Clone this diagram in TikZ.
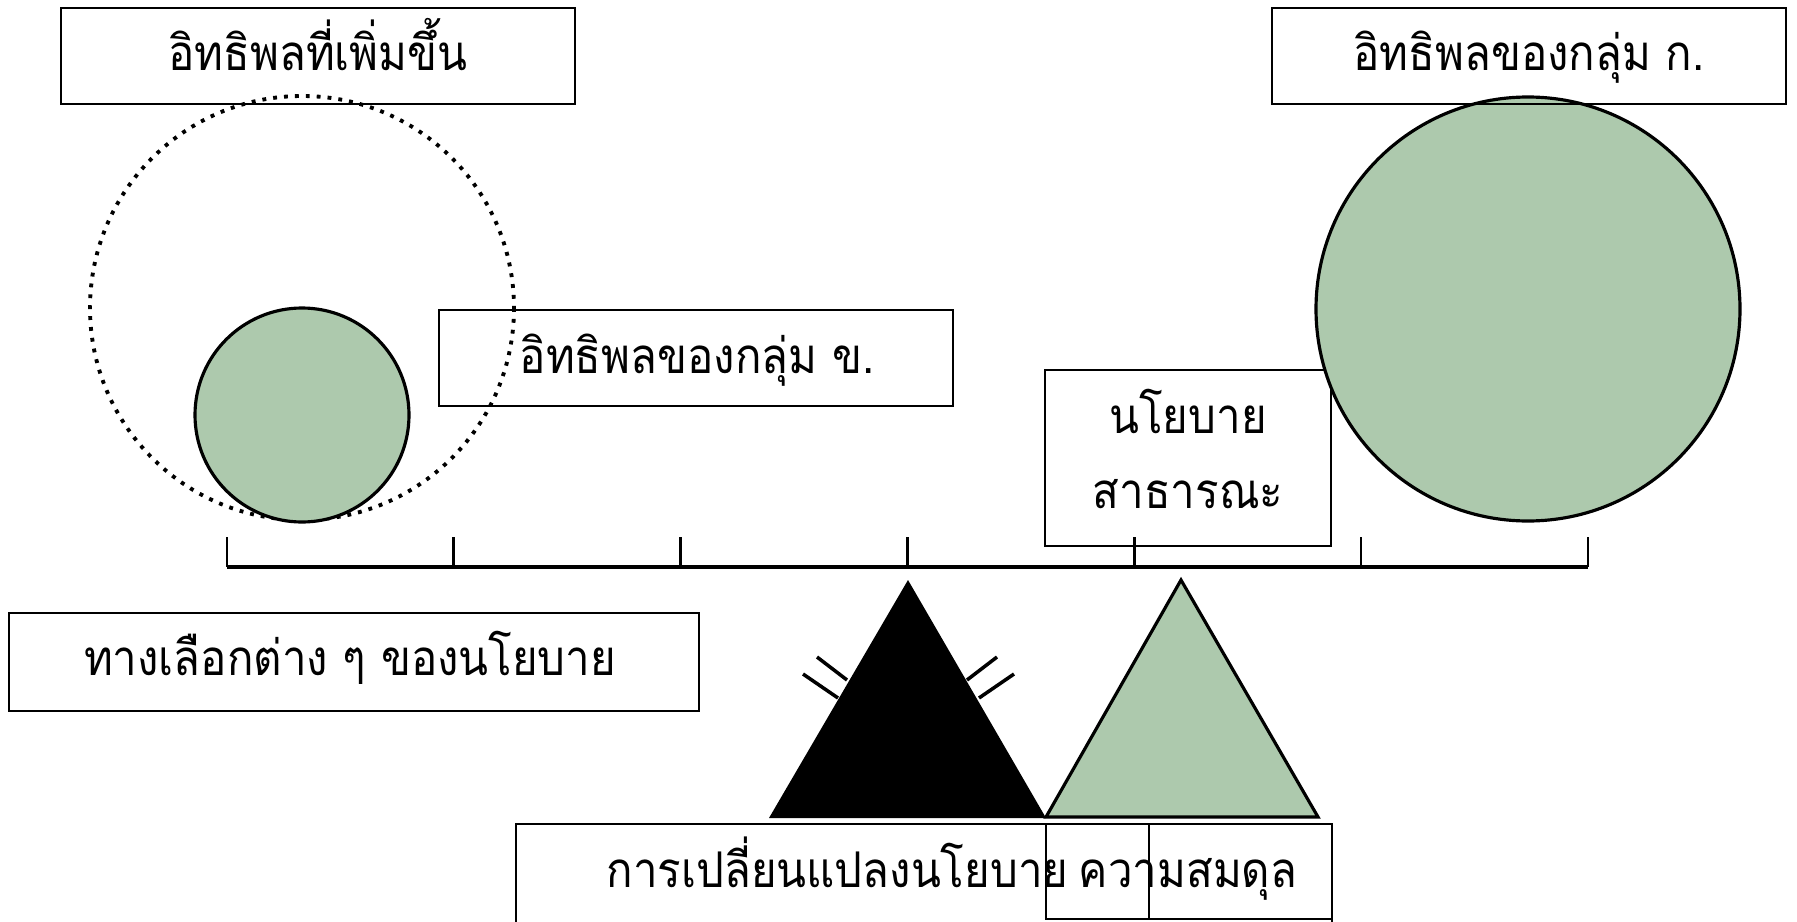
\documentclass[tikz,border=0pt]{standalone}
\usepackage{fontspec}
\usepackage{graphicx}
\newfontfamily\thai[Script=Thai]{Loma}
\newcommand{\tht}[1]{\scalebox{0.89}[1]{\thai\fontsize{14}{17}\selectfont #1}}
\definecolor{grn}{RGB}{173,201,173}
\tikzset{
  box/.style={draw, line width=0.6pt, inner sep=0pt},
  lbl/.style={inner sep=0pt, anchor=base},
  ring/.style={draw, line width=0.9pt, fill=grn},
  hash/.style={line width=1pt},
}
\begin{document}
\begin{tikzpicture}[x=0.01cm,y=-0.01cm]
\useasboundingbox (0,0) rectangle (1797,921);
\fill[white] (0,0) rectangle (1797,921);
% small circle and dotted ring
\draw[dotted, line width=1.1pt] (302,308) circle[radius=212];
\draw[ring] (302,415) circle[radius=107];
% policy box (under big circle)
\node[box, minimum width=2.86cm, minimum height=1.76cm] (pol) at (1188,458) {};
\node[lbl] (pol1) at (1188,433) {\tht{นโยบาย}};
\node[lbl] (pol2) at (1188,508) {\tht{สาธารณะ}};
% big circle
\draw[ring] (1528,309) circle[radius=212];
% top boxes
\node[box, minimum width=5.14cm, minimum height=0.96cm] (inc) at (318,56) {};
\node[lbl] (inct) at (318,70) {\tht{อิทธิพลที่เพิ่มขึ้น}};
\node[box, minimum width=5.14cm, minimum height=0.96cm] (ga) at (1529,56) {};
\node[lbl] (gat) at (1529,70) {\tht{อิทธิพลของกลุ่ม ก.}};
\node[box, minimum width=5.14cm, minimum height=0.96cm] (gb) at (696,358) {};
\node[lbl] (gbt) at (697,373) {\tht{อิทธิพลของกลุ่ม ข.}};
\node[box, minimum width=6.90cm, minimum height=0.98cm] (alt) at (354,662) {};
\node[lbl] (altt) at (350,675) {\tht{ทางเลือกต่าง ๆ ของนโยบาย}};
% scale
\coordinate (a0) at (227,567);
\coordinate (a1) at (1588,567);
\draw[line width=1.1pt] (a0) -- (a1);
\foreach \i in {0,...,6}{
  \draw[line width=0.75pt] (227+226.8*\i,537) -- (227+226.8*\i,567);
}
% triangles
\fill[black] (769,818) -- (908,580) -- (1046,818) -- cycle;
\draw[line width=0.9pt, fill=grn, line join=miter] (1046,817) -- (1181,580) -- (1318,817) -- cycle;
\draw[hash] (817,657) -- (847,680);
\draw[hash] (803,674) -- (838,698);
\draw[hash] (997,657) -- (967,680);
\draw[hash] (1014,674) -- (979,698);
% bottom boxes
\node[box, minimum width=8.16cm, minimum height=1.56cm] (chg) at (924,902) {};
\node[lbl, anchor=base west] (chgtext) at (606,887) {\tht{การเปลี่ยนแปลงนโยบาย}};
\node[lbl] (baltext) at (1188,887) {\tht{ความสมดุล}};
\node[box, minimum width=2.86cm, minimum height=0.95cm] (bal) at (1189,871.5) {};
\node[box, minimum width=1.83cm, minimum height=0.95cm] (bal2) at (1240.5,871.5) {};
\end{tikzpicture}
\end{document}
